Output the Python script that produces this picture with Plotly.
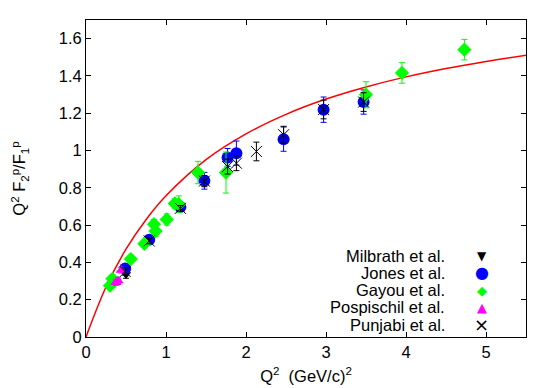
import plotly.graph_objects as go

# Model curve
curve_q2 = [0, 0.25, 0.5, 0.75, 1.0, 1.5, 2.0, 2.5, 3.0, 3.5, 4.0, 4.5, 5.0, 5.5]
curve_r = [0, 0.268, 0.471, 0.629, 0.757, 0.951, 1.089, 1.194, 1.276, 1.341, 1.395, 1.440, 1.478, 1.511]

# Milbrath et al.
mil_q2 = [0.38, 0.50]
mil_r = [0.30, 0.335]
mil_err = [0.02, 0.02]

# Jones et al.
jon_q2 = [0.49, 0.79, 1.18, 1.48, 1.77, 1.88, 2.47, 2.97, 3.47]
jon_r = [0.368, 0.521, 0.697, 0.838, 0.963, 0.986, 1.061, 1.219, 1.260]
jon_err = [0.015, 0.015, 0.02, 0.045, 0.048, 0.065, 0.065, 0.068, 0.065]

# Gayou et al.
gay_q2 = [0.30, 0.33, 0.56, 0.73, 0.85, 0.87, 1.01, 1.11, 1.16, 1.40, 1.75, 3.50, 3.95, 4.73]
gay_r = [0.275, 0.312, 0.418, 0.500, 0.605, 0.568, 0.630, 0.716, 0.712, 0.882, 0.882, 1.299, 1.416, 1.541]
gay_err = [0.02, 0.02, 0.02, 0.02, 0.025, 0.03, 0.03, 0.025, 0.045, 0.06, 0.11, 0.07, 0.055, 0.055]

# Pospischil et al.
pos_q2 = [0.373, 0.401, 0.441]
pos_r = [0.292, 0.302, 0.358]
pos_err = [0.015, 0.015, 0.015]

# Punjabi et al.
pun_q2 = [0.49, 0.79, 1.18, 1.48, 1.77, 1.88, 2.13, 2.47, 2.97, 3.47]
pun_r = [0.351, 0.515, 0.690, 0.836, 0.914, 0.932, 0.995, 1.085, 1.220, 1.260]
pun_err = [0.02, 0.015, 0.015, 0.03, 0.04, 0.04, 0.05, 0.045, 0.05, 0.05]

series_names = ["Milbrath et al.", "Jones et al.", "Gayou et al.", "Pospischil et al.", "Punjabi et al."]
series_colors = ["#000000", "#0000ff", "#00ff00", "#ff00ff", "#000000"]
series_glyphs = ["▼", "●", "◆", "▲", "×"]

FONT = "Liberation Sans, Arial, sans-serif"
FS = 16.5

fig = go.Figure()

fig.add_trace(go.Scatter(x=curve_q2, y=curve_r, mode="lines", line=dict(color="#ff0000", width=1.5, shape="spline"),
                         showlegend=False, hoverinfo="skip"))

def add_series(xs, ys, errs, color, symbol, size, line_w=0):
    fig.add_trace(go.Scatter(
        x=xs, y=ys, mode="markers",
        error_y=dict(type="data", array=errs, visible=True, color=color, thickness=1, width=3),
        marker=dict(symbol=symbol, size=size, color=color, line=dict(width=line_w, color=color)),
        showlegend=False, cliponaxis=False))

add_series(mil_q2, mil_r, mil_err, series_colors[0], "triangle-down", 9)
add_series(jon_q2, jon_r, jon_err, series_colors[1], "circle", 12)
add_series(gay_q2, gay_r, gay_err, series_colors[2], "diamond", 11)
add_series(pos_q2, pos_r, pos_err, series_colors[3], "triangle-up", 10)
add_series(pun_q2, pun_r, pun_err, series_colors[4], "x-thin-open", 11, 1)

# custom legend: text then symbol
row_y = [0.2555, 0.2028, 0.148, 0.0946, 0.0379]
glyph_sizes = [12, 16, 13, 13, 18]
for name, col, g, yy, gs in zip(series_names, series_colors, series_glyphs, row_y, glyph_sizes):
    fig.add_annotation(x=0.82, y=yy, xref="paper", yref="paper", text=name, showarrow=False,
                       xanchor="right", yanchor="middle", font=dict(family=FONT, size=FS, color="#000000"))
    fig.add_annotation(x=0.899, y=yy, xref="paper", yref="paper", text=g, showarrow=False,
                       xanchor="center", yanchor="middle",
                       font=dict(family="DejaVu Sans", size=gs, color=col))

axis_common = dict(showgrid=False, zeroline=False, showline=True, linecolor="#000000", linewidth=1,
                   mirror="ticks", ticks="inside", ticklen=5, tickcolor="#000000", automargin=False,
                   tickfont=dict(family=FONT, size=FS, color="#000000"))

fig.update_xaxes(range=[0, 5.5], tickvals=[0, 1, 2, 3, 4, 5], ticktext=["0", "1", "2", "3", "4", "5"],
                 title=dict(text="Q<sup>2</sup>  (GeV/c)<sup>2</sup>", standoff=10,
                            font=dict(family=FONT, size=FS, color="#000000")),
                 **axis_common)
fig.update_yaxes(range=[0, 1.7], tickvals=[0, 0.2, 0.4, 0.6, 0.8, 1.0, 1.2, 1.4, 1.6],
                 ticktext=["0", "0.2", "0.4", "0.6", "0.8", "1", "1.2", "1.4", "1.6"],
                 title=dict(text="Q<sup>2</sup> F<sub>2</sub><sup>p</sup>/F<sub>1</sub><sup>p</sup>", standoff=28,
                            font=dict(family=FONT, size=FS, color="#000000")),
                 **axis_common)

# page body has an 8px margin, so the figure is offset by (8, 8); margins compensate
fig.update_layout(width=554, height=388, margin=dict(l=78, r=36, t=12, b=59, autoexpand=False),
                  plot_bgcolor="#ffffff", paper_bgcolor="#ffffff", showlegend=False,
                  font=dict(family=FONT, size=FS, color="#000000"))

fig.write_html("out.html")
